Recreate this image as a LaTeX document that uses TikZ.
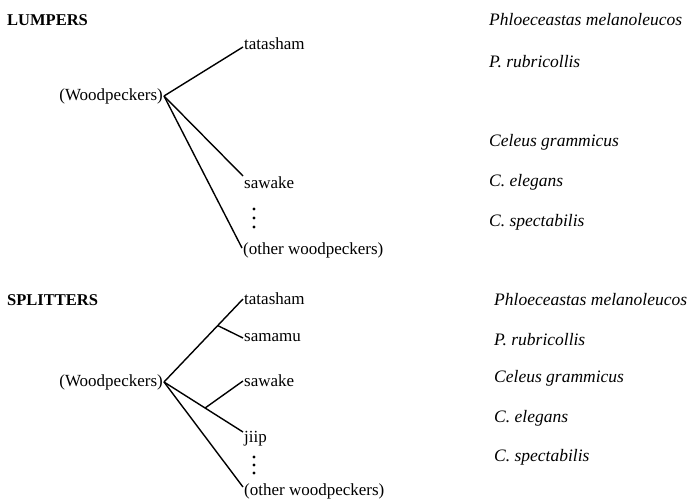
\documentclass[tikz,border=0pt]{standalone}
\usepackage{fontspec}
\setmainfont{Liberation Serif}
\usetikzlibrary{positioning, calc}

\begin{document}
\begin{tikzpicture}[x=1pt, y=-1pt, font=\fontsize{17}{19}\selectfont]

\tikzstyle{heading} = [anchor=west, inner sep=0pt, font=\fontsize{16.5}{18}\selectfont\bfseries]
\tikzstyle{root} = [anchor=east, inner sep=1pt]
\tikzstyle{leaf} = [anchor=west, inner sep=1pt]
\tikzstyle{species} = [anchor=west, inner sep=0pt, font=\fontsize{17.5}{19}\selectfont\itshape]
\tikzstyle{branch} = [line width=1.4pt]

\useasboundingbox (0,0) rectangle (688,498);

% lumpers
\node (lumpers) [heading] at (7,20) {LUMPERS};
\node (wood1) [root] at (164,96) {(Woodpeckers)};
\node (tata1) [leaf] at (243,44) {tatasham};
\node (sawa1) [leaf] at (243,183) {sawake};
\node (other1) [leaf] at (242,250) {(other woodpeckers)};
\foreach \y in {209,218,227} \fill (254,\y) circle (1.6pt);

\node (phlo1) [species] at (489,20) {Phloeceastas melanoleucos};
\node (rubr1) [species] at (489,62) {P. rubricollis};
\node (cele1) [species] at (489,142) {Celeus grammicus};
\node (eleg1) [species] at (489,182) {C. elegans};
\node (spec1) [species] at (489,222) {C. spectabilis};

\draw [branch] (wood1.east) -- ([yshift=-3pt]tata1.west);
\draw [branch] (wood1.east) -- ([yshift=7pt]sawa1.west);
\draw [branch] (wood1.east) -- ([yshift=2pt]other1.west);

% splitters
\node (splitters) [heading] at (7,300) {SPLITTERS};
\node (wood2) [root] at (164,382) {(Woodpeckers)};
\node (tata2) [leaf] at (243,299) {tatasham};
\node (sama2) [leaf] at (243,338) {samamu};
\node (sawa2) [leaf] at (243,381) {sawake};
\node (jiip2) [leaf] at (243,439) {jiip};
\node (other2) [leaf] at (243,491) {(other woodpeckers)};
\foreach \y in {457,465,473} \fill (254,\y) circle (1.6pt);

\node (phlo2) [species] at (494,300) {Phloeceastas melanoleucos};
\node (rubr2) [species] at (494,340) {P. rubricollis};
\node (cele2) [species] at (494,378) {Celeus grammicus};
\node (eleg2) [species] at (494,418) {C. elegans};
\node (spec2) [species] at (494,457) {C. spectabilis};

\coordinate (fork1) at ($(wood2.east)!0.68!(tata2.west)$);
\coordinate (fork2) at ($(wood2.east)!0.52!([yshift=7pt]jiip2.west)$);

\draw [branch] (wood2.east) -- (tata2.west);
\draw [branch] (fork1) -- (sama2.west);
\draw [branch] (wood2.east) -- ([yshift=7pt]jiip2.west);
\draw [branch] (fork2) -- (sawa2.west);
\draw [branch] (wood2.east) -- ([yshift=4pt]other2.west);
\end{tikzpicture}
\end{document}
